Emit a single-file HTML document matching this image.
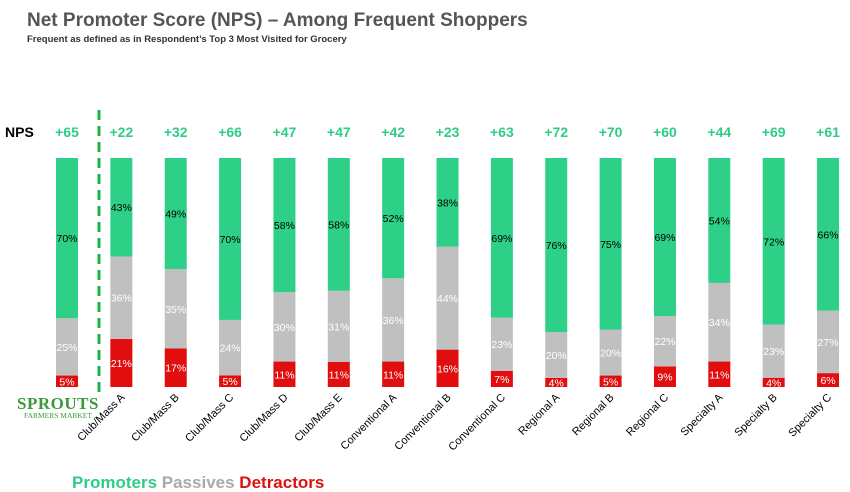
<!DOCTYPE html>
<html><head><meta charset="utf-8"><style>
body{margin:0;background:#fff;font-family:"Liberation Sans",sans-serif;}
#wrap{position:relative;width:850px;height:492px;overflow:hidden;}
.t{position:absolute;white-space:nowrap;}
</style></head><body>
<div id="wrap">
<div class="t" style="left:27px;top:10px;font-size:19px;font-weight:bold;color:#555;">Net Promoter Score (NPS) – Among Frequent Shoppers</div>
<div class="t" style="left:27px;top:34px;font-size:9.5px;font-weight:bold;color:#333;">Frequent as defined as in Respondent’s Top 3 Most Visited for Grocery</div>
<div class="t" style="left:5px;top:124px;font-size:14px;font-weight:bold;color:#000;">NPS</div>
<div class="t" style="left:17px;top:395px;color:#3a9a3a;font-family:'Liberation Serif',serif;text-align:center;line-height:1;">
<div style="font-size:17px;font-weight:bold;letter-spacing:0.5px;">SPROUTS</div>
<div style="font-size:7.5px;">FARMERS MARKET</div></div>
<div class="t" style="left:72px;top:473px;font-size:17px;font-weight:bold;">
<span style="color:#2ecc87">Promoters</span>
<span style="color:#aaa">Passives</span>
<span style="color:#e01010">Detractors</span></div>
<svg id="svg" width="850" height="492" style="position:absolute;left:0;top:0"></svg>
</div>
<script>
const categories=["Sprouts","Club/Mass A","Club/Mass B","Club/Mass C","Club/Mass D","Club/Mass E","Conventional A","Conventional B","Conventional C","Regional A","Regional B","Regional C","Specialty A","Specialty B","Specialty C"];
const nps=[65,22,32,66,47,47,42,23,63,72,70,60,44,69,61];
const promoters=[70,43,49,70,58,58,52,38,69,76,75,69,54,72,66];
const passives=[25,36,35,24,30,31,36,44,23,20,20,22,34,23,27];
const detractors=[5,21,17,5,11,11,11,16,7,4,5,9,11,4,6];
const svg=document.getElementById('svg');const NS='http://www.w3.org/2000/svg';
const top0=158,bot=387,x0=67,step=54.36,bw=22;
function xc(i){return x0+step*i;}
function mk(t,a){const e=document.createElementNS(NS,t);for(const k in a)e.setAttribute(k,a[k]);svg.appendChild(e);return e;}
const dl=mk('line',{x1:99,y1:110,x2:99,y2:395,stroke:'#22b04a','stroke-width':3,'stroke-dasharray':'10,6'});


categories.forEach((c,i)=>{
  const tot=promoters[i]+passives[i]+detractors[i];const H=bot-top0;
  const segs=[[detractors[i],'#e00e0e','#fff','detractors'],[passives[i],'#c0c0c0','#fff','passives'],[promoters[i],'#2ecf87','#000','promoters']];
  let y=bot;
  segs.forEach(s=>{const h=s[0]/tot*H;y-=h;
    const r=mk('rect',{x:xc(i)-bw/2,y:y,width:bw,height:h,fill:s[1]});
    
    
    const t=mk('text',{x:xc(i),y:y+h/2+4,'text-anchor':'middle','font-size':10.5,fill:s[2],'font-family':'Liberation Sans'});
    t.textContent=s[0]+'%';
    
    
  });
  const n=mk('text',{x:xc(i),y:137,'text-anchor':'middle','font-size':14,'font-weight':'bold',fill:'#2ecc87','font-family':'Liberation Sans'});
  n.textContent='+'+nps[i];
  
  
  if(i>0){const l=mk('text',{x:xc(i)+4,y:398,'text-anchor':'end','font-size':11,fill:'#000','font-family':'Liberation Sans',transform:`rotate(-45 ${xc(i)+4} 398)`});
    l.textContent=c;
    
    }
});
</script>
</body></html>
